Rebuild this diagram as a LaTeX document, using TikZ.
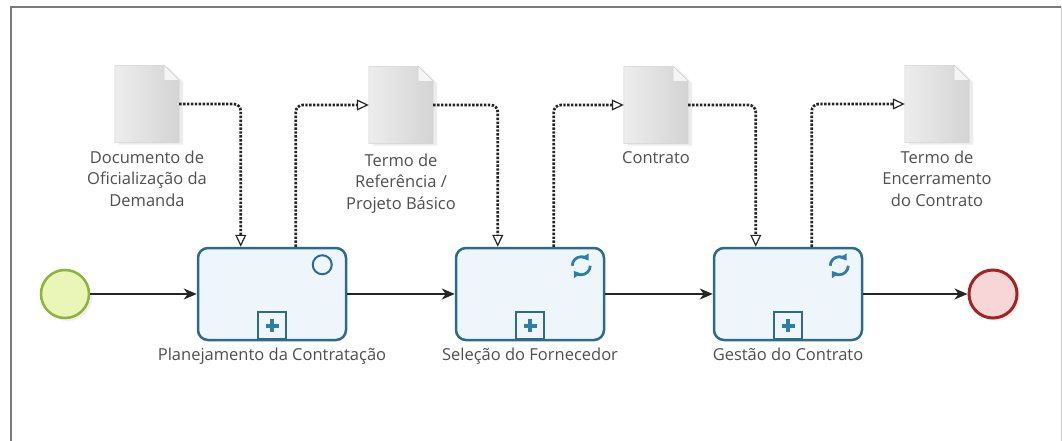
\documentclass[tikz,border=0pt]{standalone}
\usepackage{fontspec}
\setmainfont{Open Sans}
\usetikzlibrary{arrows.meta,calc,shadows}
\definecolor{txt}{HTML}{505050}
\definecolor{taskline}{HTML}{2C6B8C}
\definecolor{taskfill}{HTML}{EEF6FC}
\definecolor{startline}{HTML}{8DB33A}
\definecolor{startfill}{HTML}{EAF6B8}
\definecolor{endline}{HTML}{A42424}
\definecolor{endfill}{HTML}{F6D6D6}
\definecolor{markerc}{HTML}{2C7FA8}
\definecolor{framec}{HTML}{7A7A7A}
\begin{document}
\begin{tikzpicture}[x=1pt,y=-1pt,
  task/.style={draw=taskline, line width=2.5pt, fill=taskfill, rounded corners=10pt,
    minimum width=148pt, minimum height=92pt, inner sep=0pt},
  startev/.style={circle, draw=startline, line width=2.5pt, fill=startfill,
    minimum size=48pt, inner sep=0pt,
    drop shadow={opacity=0.12, shadow xshift=3pt, shadow yshift=-3pt}},
  endev/.style={circle, draw=endline, line width=3pt, fill=endfill,
    minimum size=48pt, inner sep=0pt,
    drop shadow={opacity=0.12, shadow xshift=3pt, shadow yshift=-3pt}},
  docnode/.style={minimum width=64pt, minimum height=77pt, inner sep=0pt},
  docbody/.style={left color=gray!14, right color=gray!34, draw=gray!35, line width=0.5pt,
    drop shadow={opacity=0.15, shadow xshift=4pt, shadow yshift=-2pt}},
  docfold/.style={fill=gray!8, draw=gray!35, line width=0.5pt},
  lbl/.style={text=txt, font=\fontsize{16.5}{21.5}\selectfont, align=center, inner sep=0pt},
  seq/.style={draw=black!85, line width=1.3pt, -{Stealth[length=13pt,width=11pt,inset=4pt]}},
  assoc/.style={draw=black!85, line width=2.7pt, dash pattern=on 2.4pt off 1.5pt,
    rounded corners=7pt, -{Triangle[open, length=12pt, width=11pt, line width=1.2pt, fill=white]}},
  plusbox/.style={draw=taskline, line width=2pt, fill=taskfill, minimum width=28pt,
    minimum height=27pt, inner sep=0pt},
  plusmark/.style={draw=markerc, line width=4pt},
  circmark/.style={circle, draw=taskline, line width=2pt, minimum size=19pt, inner sep=0pt},
  loopmark/.style={draw=markerc, line width=2.8pt, -{Triangle[length=6pt,width=8pt]}}
]
\useasboundingbox (0,0) rectangle (1062,441);
\fill[white] (0,0) rectangle (1062,441);
% frame
\draw[framec, line width=2pt] (11,441) -- (11,7) -- (1061,7);
\draw[gray!40, line width=1pt] (1061,7) -- (1061,441);

% events and tasks
\node[startev] (start) at (65,294) {};
\node[task] (t1) at (272,294) {};
\node[task] (t2) at (530,294) {};
\node[task] (t3) at (788,294) {};
\node[endev] (end) at (993,294) {};

% task labels
\node[lbl, anchor=north] (lt1) at ($(t1.south)+(0,7)$) {Planejamento da Contratação};
\node[lbl, anchor=north] (lt2) at ($(t2.south)+(0,7)$) {Seleção do Fornecedor};
\node[lbl, anchor=north] (lt3) at ($(t3.south)+(0,7)$) {Gestão do Contrato};

% markers
\foreach \t in {t1,t2,t3}{
  \node[plusbox, anchor=south] (p\t) at ($(\t.south)+(0,-1.2)$) {};
  \draw[plusmark] ($(p\t.center)+(-6.5,0)$) -- ($(p\t.center)+(6.5,0)$);
  \draw[plusmark] ($(p\t.center)+(0,-6.5)$) -- ($(p\t.center)+(0,6.5)$);
}
\node[circmark] (c1) at ($(t1.north east)+(-25,18)$) {};
\foreach \t in {t2,t3}{
  \coordinate (lc\t) at ($(\t.north east)+(-24,19)$);
  \draw[loopmark] ($(lc\t)+(-9,0)$) arc[start angle=180, end angle=325, radius=9];
  \draw[loopmark] ($(lc\t)+(9,0)$) arc[start angle=0, end angle=145, radius=9];
}

% documents
\node[docnode] (d1) at (147,104) {};
\node[docnode] (d2) at (401,105) {};
\node[docnode] (d3) at (656,105) {};
\node[docnode] (d4) at (937,104) {};
\foreach \d in {d1,d2,d3,d4}{
  \path[docbody] (\d.north west) -- ($(\d.north east)+(-15,0)$) -- ($(\d.north east)+(0,15)$)
     -- (\d.south east) -- (\d.south west) -- cycle;
  \path[docfold] ($(\d.north east)+(-15,0)$) -- ($(\d.north east)+(-15,15)$)
     -- ($(\d.north east)+(0,15)$) -- cycle;
}
\node[lbl, anchor=north] (ld1) at ($(d1.south)+(0,8)$) {Documento de\\Oficialização da\\Demanda};
\node[lbl, anchor=north] (ld2) at ($(d2.south)+(0,10)$) {Termo de\\Referência /\\Projeto Básico};
\node[lbl, anchor=north] (ld3) at ($(d3.south)+(0,8)$) {Contrato};
\node[lbl, anchor=north] (ld4) at ($(d4.south)+(0,8)$) {Termo de\\Encerramento\\do Contrato};

% sequence flows
\draw[seq] (start) -- (t1);
\draw[seq] (t1) -- (t2);
\draw[seq] (t2) -- (t3);
\draw[seq] (t3) -- (end);

% associations
\draw[assoc] (d1.east) -| ($(t1.north west)+(44,0)$);
\draw[assoc] ($(t1.north west)+(99,0)$) |- (d2.west);
\draw[assoc] (d2.east) -| ($(t2.north west)+(43,0)$);
\draw[assoc] ($(t2.north west)+(99,0)$) |- (d3.west);
\draw[assoc] (d3.east) -| ($(t3.north west)+(43,0)$);
\draw[assoc] ($(t3.north west)+(99,0)$) |- (d4.west);
\end{tikzpicture}
\end{document}
